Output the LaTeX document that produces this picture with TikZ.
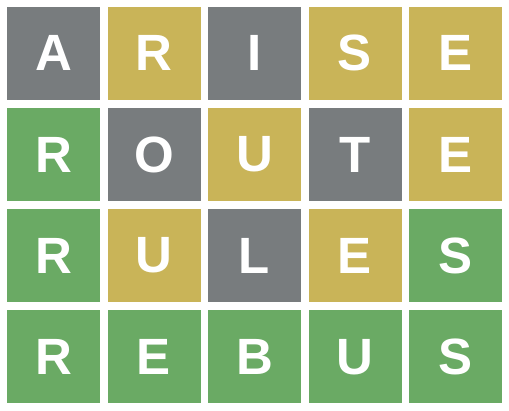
\documentclass[tikz,border=0pt]{standalone}
\usepackage{fontspec}
\setmainfont{Liberation Sans}
\usetikzlibrary{positioning}
\definecolor{gris}{HTML}{787C7E}
\definecolor{amarillo}{HTML}{C9B458}
\definecolor{verde}{HTML}{6AAA64}
\tikzset{tile/.style={rectangle, minimum width=93pt, minimum height=93pt, inner sep=0pt, text=white, font=\fontsize{51}{51}\selectfont\bfseries}}

\begin{document}
\begin{tikzpicture}[x=1pt,y=-1pt]
	\useasboundingbox (0,0) rectangle (509,411);

	% ARISE
	\foreach \l/\c [count=\i from 0] in {A/gris,R/amarillo,I/gris,S/amarillo,E/amarillo}
		\node[tile, fill=\c] (a\i) at ({53.5+100.5*\i},53.3) {\l};
	% ROUTE
	\foreach \l/\c [count=\i from 0] in {R/verde,O/gris,U/amarillo,T/gris,E/amarillo}
		\node[tile, fill=\c] (b\i) at ({53.5+100.5*\i},154.5) {\l};
	% RULES
	\foreach \l/\c [count=\i from 0] in {R/verde,U/amarillo,L/gris,E/amarillo,S/verde}
		\node[tile, fill=\c] (c\i) at ({53.5+100.5*\i},255.7) {\l};
	% REBUS
	\foreach \l/\c [count=\i from 0] in {R/verde,E/verde,B/verde,U/verde,S/verde}
		\node[tile, fill=\c] (d\i) at ({53.5+100.5*\i},357) {\l};

\end{tikzpicture}
\end{document}
